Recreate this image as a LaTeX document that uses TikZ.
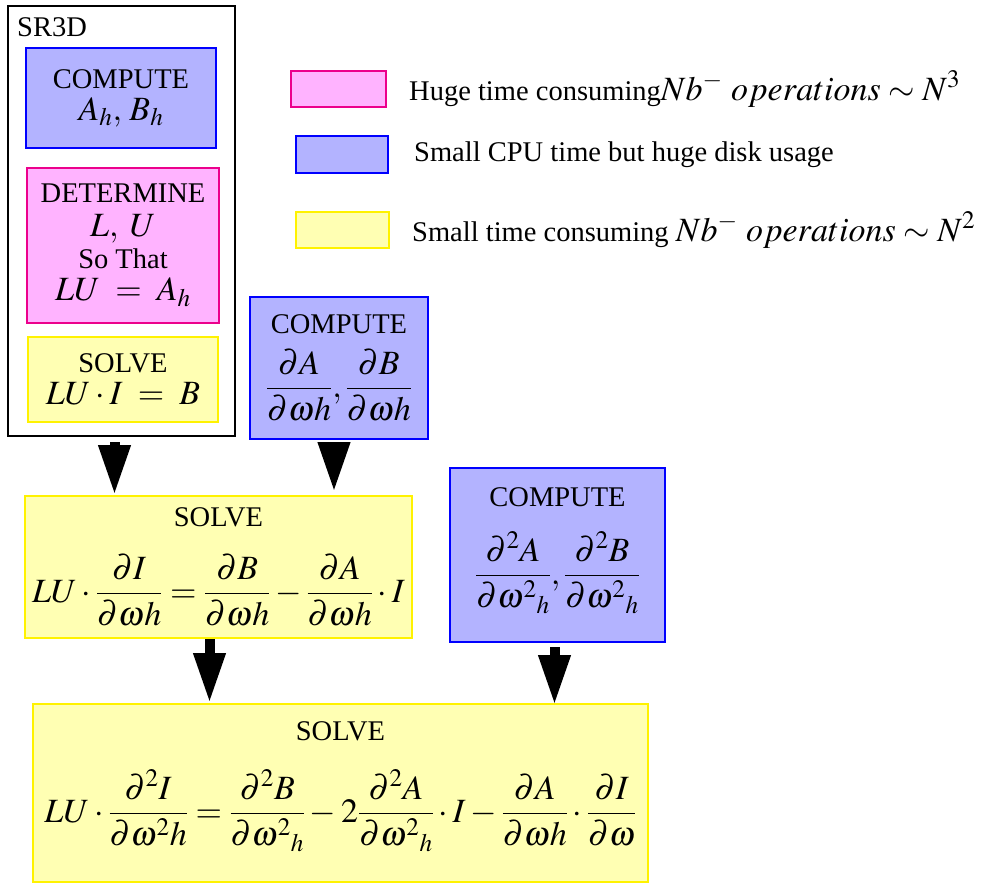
\documentclass[tikz,border=0pt]{standalone}
\usepackage{amsmath}
\usepackage{mathptmx}
\usepackage{fontspec}
\setmainfont{Liberation Serif}
\usetikzlibrary{arrows.meta,positioning}

\definecolor{diskblue}{HTML}{B3B3FF}
\definecolor{hugepink}{HTML}{FFB3FF}
\definecolor{smallyellow}{HTML}{FFFFB3}

\tikzset{
	box/.style={draw, line width=2pt, align=center, inner sep=0pt, anchor=north west,
		font=\fontsize{28.5}{32}\selectfont},
	diskbox/.style={box, draw=blue, fill=diskblue},
	hugebox/.style={box, draw=magenta, fill=hugepink},
	smallbox/.style={box, draw=yellow, fill=smallyellow},
	keytext/.style={inner sep=0pt, font=\fontsize{28.5}{32}\selectfont},
	bigarrow/.style={line width=10pt, -{Triangle[length=50pt,width=30pt]}},
}
\newcommand{\bigmath}[1]{{\fontsize{34}{38}\selectfont$#1$}}

\begin{document}
\begin{tikzpicture}[x=1pt,y=-1pt]
	\useasboundingbox (0,0) rectangle (982,883);
	
	% SR3D frame
	\node[draw, line width=2pt, minimum width=227pt, minimum height=430pt, anchor=north west] (sr3d) at (7,5) {};
	\node[keytext, anchor=west] (sr3dname) at (17,27) {SR3D};
	\node[diskbox, minimum width=190pt, minimum height=100pt] (compAB) at (25,47) {COMPUTE\\\bigmath{A_h,\,B_h}};
	\node[hugebox, minimum width=192pt, minimum height=155pt] (lu) at (26,167) {DETERMINE\\[2pt]\bigmath{L,\;U}\\So That\\\bigmath{LU \;=\; A_h}};
	\node[smallbox, minimum width=190pt, minimum height=85pt] (solveI) at (27,336) {SOLVE\\\bigmath{LU\cdot I \;=\; B}};
	
	% first derivatives
	\node[diskbox, minimum width=178pt, minimum height=142pt] (dAB) at (249,296)
		{COMPUTE\\[14pt]\bigmath{\dfrac{\partial A}{\partial\omega h},\dfrac{\partial B}{\partial\omega h}}};
	\node[smallbox, minimum width=387pt, minimum height=142pt] (solvedI) at (24,495)
		{SOLVE\\[26pt]\bigmath{LU\cdot\dfrac{\partial I}{\partial\omega h} = \dfrac{\partial B}{\partial\omega h} - \dfrac{\partial A}{\partial\omega h}\cdot I}};
	
	% second derivatives
	\node[diskbox, minimum width=215pt, minimum height=174pt] (ddAB) at (449,467)
		{COMPUTE\\[24pt]\bigmath{\dfrac{\partial^2 A}{\partial\omega^2{}_h},\dfrac{\partial^2 B}{\partial\omega^2{}_h}}\\[6pt]};
	\node[smallbox, minimum width=615pt, minimum height=178pt] (solveddI) at (32,703)
		{SOLVE\\[28pt]\bigmath{LU\cdot\dfrac{\partial^2 I}{\partial\omega^2 h} = \dfrac{\partial^2 B}{\partial\omega^2{}_h} - 2\dfrac{\partial^2 A}{\partial\omega^2{}_h}\cdot I - \dfrac{\partial A}{\partial\omega h}\cdot\dfrac{\partial I}{\partial\omega}}\\[10pt]};
	
	% legend
	\node[hugebox, minimum width=95pt, minimum height=36pt] (keyhuge) at (290,70) {};
	\node[diskbox, minimum width=92pt, minimum height=37pt] (keydisk) at (295,135) {};
	\node[smallbox, minimum width=93pt, minimum height=36pt] (keysmall) at (295,211) {};
	\node[keytext, right=22pt of keyhuge] (texthuge) {Huge time consuming\bigmath{Nb^{-}\ operations\sim N^{3}}};
	\node[keytext, right=25pt of keydisk] (textdisk) {Small CPU time but huge disk usage};
	\node[keytext, right=22pt of keysmall] (textsmall) {Small time consuming \bigmath{Nb^{-}\ operations\sim N^{2}}};
	
	% arrows
	\draw[bigarrow] ([xshift=-7pt,yshift=-5pt]sr3d.south) -- ([xshift=-7pt]sr3d.south |- solvedI.north);
	\draw[bigarrow] ([xshift=-5pt,yshift=-5pt]dAB.south) -- ([xshift=-5pt,yshift=3pt]dAB.south |- solvedI.north);
	\draw[bigarrow] ([xshift=-9pt]solvedI.south) -- ([xshift=-9pt]solvedI.south |- solveddI.north);
	\draw[bigarrow] ([xshift=-3pt,yshift=-4pt]ddAB.south) -- ([xshift=-3pt,yshift=-2pt]ddAB.south |- solveddI.north);
\end{tikzpicture}
\end{document}
